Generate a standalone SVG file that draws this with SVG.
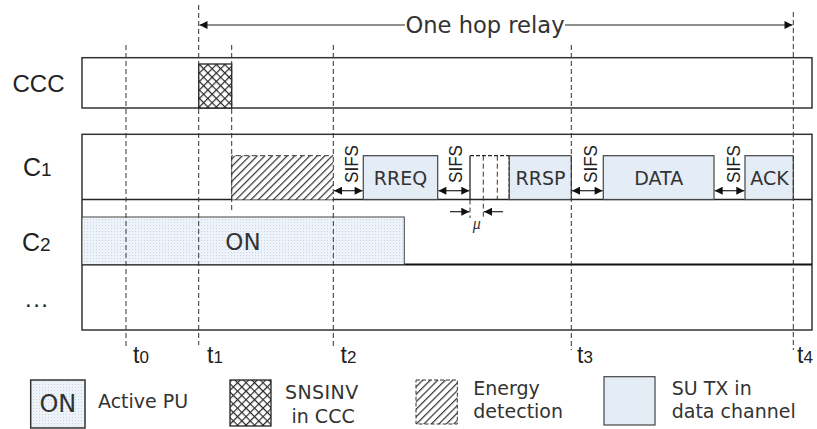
<svg xmlns="http://www.w3.org/2000/svg" width="817" height="429" viewBox="0 0 817 429">
<defs>
<style>
.t{font-family:"Liberation Sans",Arial,sans-serif;fill:#222}
.v{font-family:"DejaVu Sans",Verdana,sans-serif;fill:#333}
.box{stroke:#333;stroke-width:1.5;fill:none}
.su{fill:#e4ecf6;stroke:#444;stroke-width:1.2}
.dash{stroke:#333;stroke-width:1;stroke-dasharray:5,3;fill:none}
.ln{stroke:#222;stroke-width:1.2;fill:none}
</style>
<pattern id="dots" patternUnits="userSpaceOnUse" width="3" height="3">
<rect width="3" height="3" fill="#eef3fa"/>
<rect width="1" height="1" fill="#c9d6ea"/>
</pattern>
<pattern id="xh" patternUnits="userSpaceOnUse" width="6" height="6" patternTransform="rotate(45)">
<rect width="6" height="6" fill="#fff"/>
<rect x="0" y="0" width="1.2" height="6" fill="#2a2a2a"/>
<rect x="0" y="0" width="6" height="1.2" fill="#2a2a2a"/>
</pattern>
<pattern id="hh" patternUnits="userSpaceOnUse" width="5.3" height="5.3" patternTransform="rotate(45)">
<rect width="5.3" height="5.3" fill="#fff"/>
<rect x="0" y="0" width="1.2" height="5.3" fill="#333"/>
</pattern>
<marker id="ah" viewBox="0 0 10 10" refX="10" refY="5" markerWidth="10" markerHeight="8" markerUnits="userSpaceOnUse" orient="auto-start-reverse">
<path d="M0,0 L10,5 L0,10 Z" fill="#111"/>
</marker>
</defs>

<g id="channels">
<rect class="box" x="82" y="57.7" width="730" height="50.3"/>
<rect class="box" x="82" y="134.3" width="730" height="195.7"/>
<line x1="82" y1="199.5" x2="812" y2="199.5" stroke="#222" stroke-width="1.6"/>
<line x1="82" y1="264.5" x2="812" y2="264.5" stroke="#111" stroke-width="2.2"/>
<text class="t" x="12.5" y="92" font-size="24">CCC</text>
<text class="t" x="23" y="176" font-size="25">C<tspan font-size="19">1</tspan></text>
<text class="t" x="22" y="251" font-size="25">C<tspan font-size="19">2</tspan></text>
<text class="t" x="25" y="307" font-size="24" letter-spacing="1.5">...</text>
</g>

<g id="on-c2">
<rect x="82" y="217" width="322.3" height="47.5" fill="url(#dots)" stroke="#444" stroke-width="1"/>
<text class="v" x="243" y="250" font-size="23" text-anchor="middle">ON</text>
</g>

<g id="snsinv-ccc">
<rect x="198.7" y="64" width="33" height="44" fill="url(#xh)" stroke="#222" stroke-width="1.3"/>
</g>

<g id="energy-c1">
<rect x="231.7" y="155.7" width="101.6" height="43.8" fill="url(#hh)"/>
<path d="M231.7,199.5 V155.7 H333.3" class="dash"/>
</g>

<g id="rreq">
<rect class="su" x="363.3" y="155.7" width="74.4" height="43.8"/>
<text class="v" x="400.5" y="185" font-size="19" text-anchor="middle">RREQ</text>
</g>

<g id="wait">
<line x1="470" y1="155.7" x2="470" y2="199.5" stroke="#222" stroke-width="1.3"/>
<line x1="470" y1="155.7" x2="509.3" y2="155.7" stroke="#222" stroke-width="1.3" stroke-dasharray="4,2"/>
<line x1="483.3" y1="155.7" x2="483.3" y2="218" class="dash"/>
<line x1="497.3" y1="155.7" x2="497.3" y2="199.5" class="dash"/>
<line x1="509.3" y1="155.7" x2="509.3" y2="199.5" stroke="#222" stroke-width="1.5" stroke-dasharray="4,1.5"/>
<line x1="470" y1="199.5" x2="470" y2="218" class="dash"/>
<text x="476.7" y="229" font-size="16" font-style="italic" font-family="'Liberation Serif',serif" fill="#333" text-anchor="middle">μ</text>
</g>

<g id="rrsp">
<rect class="su" x="509.3" y="155.7" width="62" height="43.8"/>
<text class="v" x="540.5" y="185" font-size="19" text-anchor="middle">RRSP</text>
</g>

<g id="data">
<rect class="su" x="603.3" y="155.7" width="110.7" height="43.8"/>
<text class="v" x="658.7" y="185" font-size="19" text-anchor="middle">DATA</text>
</g>

<g id="ack">
<rect class="su" x="745" y="155.7" width="48.3" height="43.8"/>
<text class="v" x="769.5" y="185" font-size="19" text-anchor="middle">ACK</text>
</g>

<g id="sifs-labels">
<text class="t" font-size="19" text-anchor="middle" transform="translate(358,164) rotate(-90)" textLength="38" lengthAdjust="spacingAndGlyphs">SIFS</text>
<text class="t" font-size="19" text-anchor="middle" transform="translate(461.7,164) rotate(-90)" textLength="38" lengthAdjust="spacingAndGlyphs">SIFS</text>
<text class="t" font-size="19" text-anchor="middle" transform="translate(596.7,164) rotate(-90)" textLength="38" lengthAdjust="spacingAndGlyphs">SIFS</text>
<text class="t" font-size="19" text-anchor="middle" transform="translate(740,164) rotate(-90)" textLength="38" lengthAdjust="spacingAndGlyphs">SIFS</text>
</g>

<g id="connectors">
<line class="dash" x1="126" y1="45" x2="126" y2="347"/>
<line class="dash" x1="198.7" y1="5" x2="198.7" y2="345"/>
<line class="dash" x1="231.7" y1="45" x2="231.7" y2="212"/>
<line class="dash" x1="333.3" y1="45" x2="333.3" y2="347"/>
<line class="dash" x1="571.3" y1="45" x2="571.3" y2="350"/>
<line class="dash" x1="793.3" y1="12" x2="793.3" y2="350"/>
<line class="ln" x1="199.5" y1="25" x2="405" y2="25" marker-start="url(#ah)"/>
<line class="ln" x1="565" y1="25" x2="792.5" y2="25" marker-end="url(#ah)"/>
<line class="ln" x1="334" y1="190.7" x2="362.6" y2="190.7" marker-start="url(#ah)" marker-end="url(#ah)"/>
<line class="ln" x1="438.4" y1="190.7" x2="469.3" y2="190.7" marker-start="url(#ah)" marker-end="url(#ah)"/>
<line class="ln" x1="572" y1="190.7" x2="602.6" y2="190.7" marker-start="url(#ah)" marker-end="url(#ah)"/>
<line class="ln" x1="714.7" y1="190.7" x2="744.3" y2="190.7" marker-start="url(#ah)" marker-end="url(#ah)"/>
<line class="ln" x1="450" y1="211.7" x2="469.3" y2="211.7" marker-end="url(#ah)"/>
<line class="ln" x1="503" y1="211.7" x2="484" y2="211.7" marker-end="url(#ah)"/>
<text class="v" x="485" y="33" font-size="22.6" text-anchor="middle" fill="#222">One hop relay</text>
</g>

<g id="time-labels">
<text class="t" x="133" y="363" font-size="23">t<tspan font-size="17">0</tspan></text>
<text class="t" x="207" y="363" font-size="23">t<tspan font-size="17">1</tspan></text>
<text class="t" x="340.5" y="363" font-size="23">t<tspan font-size="17">2</tspan></text>
<text class="t" x="577" y="363" font-size="23">t<tspan font-size="17">3</tspan></text>
<text class="t" x="797" y="363" font-size="23">t<tspan font-size="17">4</tspan></text>
</g>

<g id="legend-on">
<rect x="30.7" y="380" width="54.3" height="48" fill="url(#dots)" stroke="#333" stroke-width="1.5"/>
<text class="v" x="57.8" y="412" font-size="24" text-anchor="middle">ON</text>
<text class="v" x="98" y="408" font-size="19">Active PU</text>
</g>

<g id="legend-snsinv">
<rect x="230" y="380" width="41" height="46" fill="url(#xh)" stroke="#222" stroke-width="1.3"/>
<text class="v" x="285" y="399" font-size="19" letter-spacing="0.4">SNSINV</text>
<text class="v" x="291.5" y="422.5" font-size="19">in CCC</text>
</g>

<g id="legend-energy">
<rect x="416" y="380" width="41.3" height="44" fill="url(#hh)" stroke="#333" stroke-width="1" stroke-dasharray="4,2"/>
<text class="v" x="473.3" y="395" font-size="19">Energy</text>
<text class="v" x="473.3" y="418.3" font-size="19">detection</text>
</g>

<g id="legend-su">
<rect class="su" x="604" y="376.7" width="51" height="48.3"/>
<text class="v" x="671.7" y="395" font-size="19">SU TX in</text>
<text class="v" x="671.7" y="418.3" font-size="19">data channel</text>
</g>
</svg>
